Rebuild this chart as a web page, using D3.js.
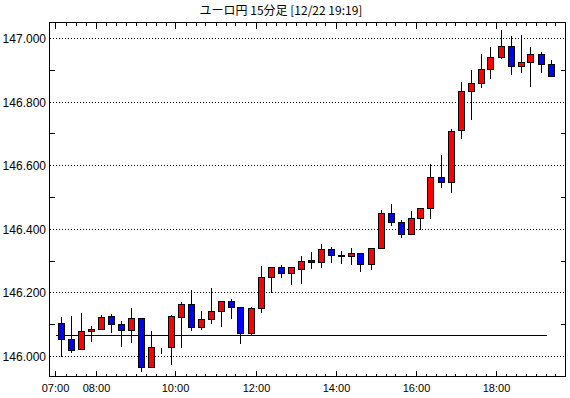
<!DOCTYPE html>
<html>
<head>
<meta charset="utf-8">
<script src="https://cdn.jsdelivr.net/npm/d3@7"></script>
<style>
  body { margin: 0; background: #fff; }
  svg { display: block; }
  line, rect { shape-rendering: crispEdges; }
</style>
</head>
<body>
<svg id="chart" width="570" height="398"></svg>
<script>
const title = "ユーロ円 15分足 [12/22 19:19]"

// 15-minute bars, 07:00 .. 19:15
const times = [
  "07:00", "07:15", "07:30", "07:45", "08:00", "08:15", "08:30", "08:45",
  "09:00", "09:15", "09:30", "09:45", "10:00", "10:15", "10:30", "10:45",
  "11:00", "11:15", "11:30", "11:45", "12:00", "12:15", "12:30", "12:45",
  "13:00", "13:15", "13:30", "13:45", "14:00", "14:15", "14:30", "14:45",
  "15:00", "15:15", "15:30", "15:45", "16:00", "16:15", "16:30", "16:45",
  "17:00", "17:15", "17:30", "17:45", "18:00", "18:15", "18:30", "18:45",
  "19:00", "19:15"
]
const open = [
  146.103, 146.052, 146.021, 146.078, 146.084, 146.126, 146.100, 146.081,
  146.119, 145.964, 146.027, 146.027, 146.122, 146.163, 146.090, 146.115,
  146.142, 146.173, 146.153, 146.071, 146.150, 146.247, 146.279, 146.260,
  146.275, 146.301, 146.295, 146.336, 146.318, 146.314, 146.323, 146.288,
  146.339, 146.449, 146.420, 146.383, 146.433, 146.464, 146.562, 146.546,
  146.710, 146.833, 146.860, 146.901, 146.939, 146.975, 146.913, 146.926,
  146.950, 146.917
]
const high = [
  146.125, 146.129, 146.138, 146.097, 146.131, 146.134, 146.113, 146.155,
  146.122, 146.082, 146.027, 146.131, 146.173, 146.210, 146.145, 146.218,
  146.176, 146.181, 146.157, 146.157, 146.286, 146.279, 146.289, 146.279,
  146.318, 146.330, 146.356, 146.346, 146.333, 146.342, 146.327, 146.344,
  146.462, 146.482, 146.430, 146.459, 146.464, 146.606, 146.635, 146.716,
  146.865, 146.904, 146.954, 146.975, 147.028, 147.009, 147.013, 146.975,
  146.959, 146.934
]
const low = [
  146.000, 146.014, 146.021, 146.048, 146.084, 146.076, 146.032, 146.045,
  145.954, 145.964, 146.008, 145.974, 146.029, 146.081, 146.084, 146.105,
  146.094, 146.120, 146.040, 146.068, 146.139, 146.200, 146.249, 146.225,
  146.229, 146.278, 146.279, 146.297, 146.293, 146.288, 146.268, 146.273,
  146.339, 146.412, 146.375, 146.383, 146.398, 146.433, 146.532, 146.517,
  146.687, 146.745, 146.847, 146.875, 146.936, 146.886, 146.892, 146.850,
  146.894, 146.879
]
const close = [
  146.052, 146.019, 146.078, 146.085, 146.124, 146.100, 146.081, 146.119,
  145.964, 146.027, 146.027, 146.125, 146.163, 146.091, 146.115, 146.142,
  146.173, 146.153, 146.071, 146.151, 146.247, 146.279, 146.260, 146.279,
  146.300, 146.295, 146.336, 146.317, 146.314, 146.323, 146.288, 146.339,
  146.449, 146.420, 146.383, 146.433, 146.464, 146.562, 146.546, 146.708,
  146.833, 146.860, 146.901, 146.939, 146.975, 146.913, 146.926, 146.950,
  146.917, 146.879
]
const refLine = 146.065
const yTicks = [146.0, 146.2, 146.4, 146.6, 146.8, 147.0]
const yMinorTicks = [146.1, 146.3, 146.5, 146.7, 146.9]
const xLabels = ["07:00", "08:00", "10:00", "12:00", "14:00", "16:00", "18:00"]

const toMin = s => { const [h, m] = s.split(":").map(Number); return (h - 7) * 60 + m }

const [width, height] = [570, 398]
const frame = {left: 49.5, right: 565.5, top: 22.5, bottom: 376.5}
const font = "'Liberation Sans', Arial, sans-serif"

const x = d3.scaleLinear().domain([-9, 765]).range([frame.left, frame.right])
const y = d3.scaleLinear().domain([145.9355, 147.0487]).range([frame.bottom, frame.top])
const cx = t => Math.round(x(toMin(t) + 7.5))
const py = v => Math.round(y(v)) + 0.5

const svg = d3.select("#chart")

svg.append("text")
  .attr("x", 281).attr("y", 15)
  .attr("text-anchor", "middle")
  .attr("font-family", "'Noto Sans CJK JP', sans-serif")
  .attr("font-size", 12)
  .text(title)

// grid
svg.append("g").selectAll("line")
  .data(yTicks)
  .join("line")
    .attr("x1", frame.left).attr("x2", frame.right)
    .attr("y1", py).attr("y2", py)
    .attr("stroke", "#000").attr("stroke-dasharray", "1,2")

// y labels
svg.append("g").selectAll("text")
  .data(yTicks)
  .join("text")
    .attr("x", 46).attr("y", d => py(d) + 4)
    .attr("text-anchor", "end")
    .attr("font-family", font).attr("font-size", 12)
    .text(d => d3.format(".3f")(d))

// minor y ticks on both sides, inside
const ym = svg.append("g").attr("stroke", "#000")
yMinorTicks.forEach(v => {
  ym.append("line").attr("x1", frame.left).attr("x2", frame.left + 5).attr("y1", py(v)).attr("y2", py(v))
  ym.append("line").attr("x1", frame.right - 5).attr("x2", frame.right).attr("y1", py(v)).attr("y2", py(v))
})

// x ticks: every 15 min at top and bottom, longer at labels
const tickTimes = times.concat(["19:30"])
const xt = svg.append("g").attr("stroke", "#000")
tickTimes.forEach(t => {
  const xx = Math.round(x(toMin(t))) + 0.5
  const len = xLabels.includes(t) ? 6 : 3
  xt.append("line").attr("x1", xx).attr("x2", xx).attr("y1", frame.bottom).attr("y2", frame.bottom - len)
  xt.append("line").attr("x1", xx).attr("x2", xx).attr("y1", frame.top).attr("y2", frame.top + len)
})

svg.append("g").selectAll("text")
  .data(xLabels)
  .join("text")
    .attr("x", d => Math.round(x(toMin(d))) + 0.5)
    .attr("y", 392)
    .attr("text-anchor", "middle")
    .attr("font-family", font).attr("font-size", 11)
    .text(d => d)

// reference line
svg.append("line")
  .attr("x1", Math.round(x(toMin("07:00"))) + 0.5)
  .attr("x2", Math.round(x(toMin("19:15"))) + 0.5)
  .attr("y1", py(refLine)).attr("y2", py(refLine))
  .attr("stroke", "#000")

// candles
const bars = d3.range(times.length)
const g = svg.append("g")
g.selectAll("line")
  .data(bars)
  .join("line")
    .attr("x1", i => cx(times[i]) + 0.5).attr("x2", i => cx(times[i]) + 0.5)
    .attr("y1", i => py(high[i])).attr("y2", i => py(low[i]))
    .attr("stroke", "#000")
g.selectAll("rect")
  .data(bars)
  .join("rect")
    .attr("x", i => cx(times[i]) - 3 + 0.5)
    .attr("width", 6)
    .attr("y", i => py(Math.max(open[i], close[i])))
    .attr("height", i => Math.max(0, py(Math.min(open[i], close[i])) - py(Math.max(open[i], close[i]))))
    .attr("fill", i => close[i] >= open[i] ? "#ff0000" : "#0000ff")
    .attr("stroke", "#000")

// frame
svg.append("rect")
  .attr("x", frame.left).attr("y", frame.top)
  .attr("width", frame.right - frame.left).attr("height", frame.bottom - frame.top)
  .attr("fill", "none").attr("stroke", "#000")
</script>
</body>
</html>
